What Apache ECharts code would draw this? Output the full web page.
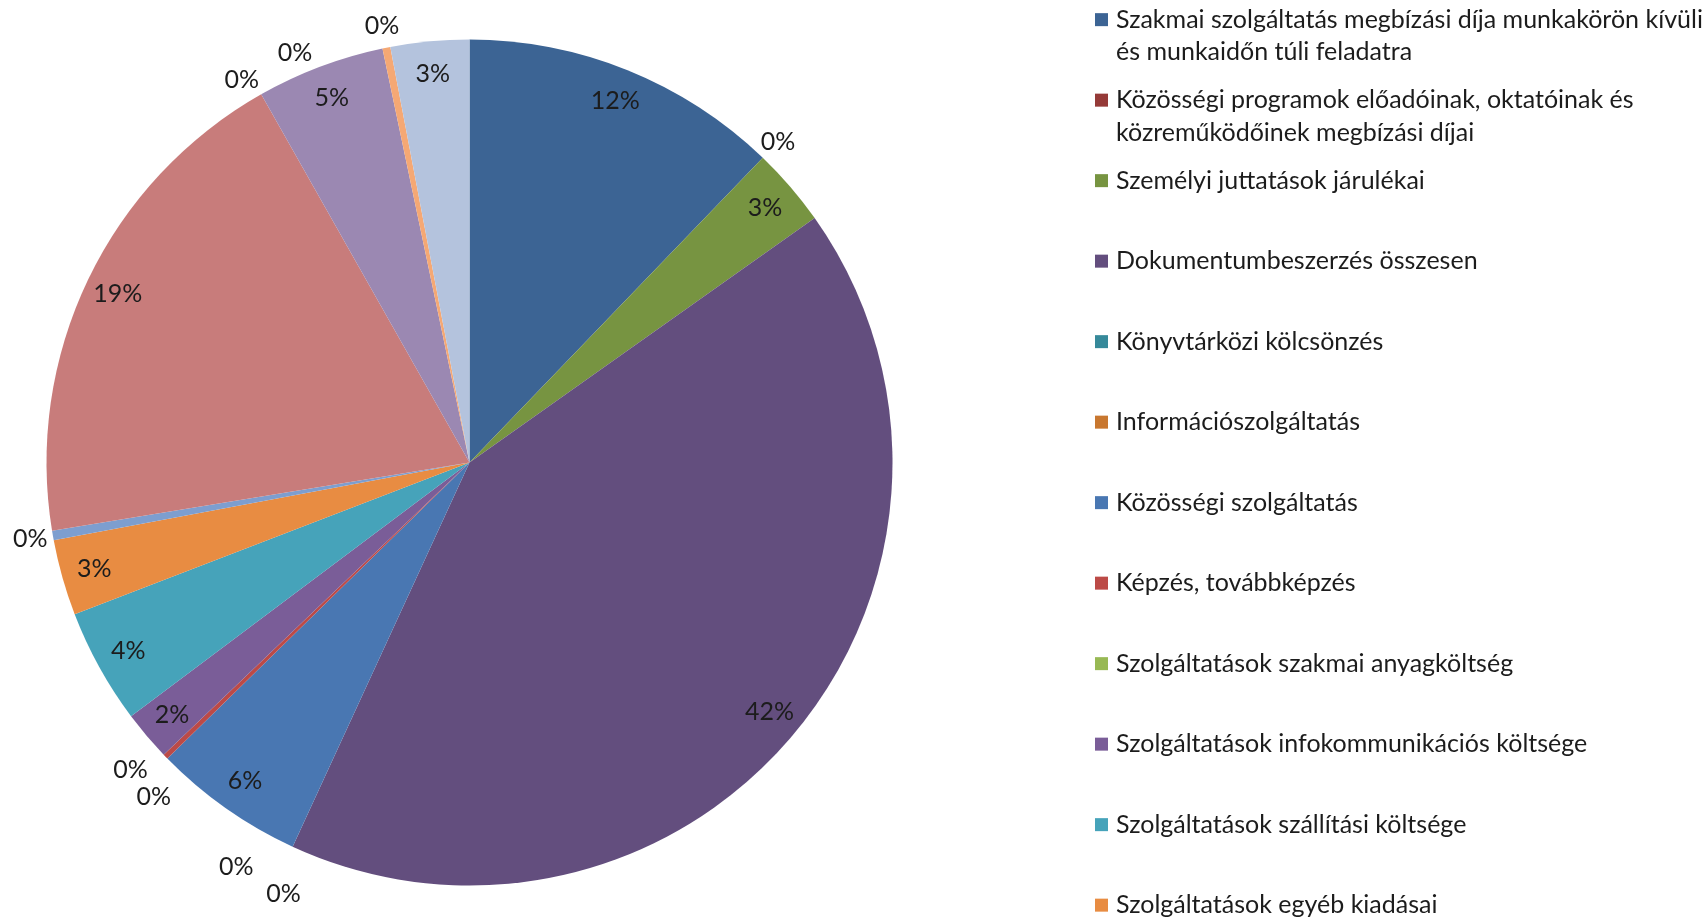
<!DOCTYPE html>
<html>
<head>
<meta charset="utf-8">
<script src="https://cdn.jsdelivr.net/npm/echarts@6/dist/echarts.min.js"></script>
<style>
html,body{margin:0;padding:0;background:#ffffff;}
#chart{width:1708px;height:921px;}
</style>
</head>
<body>
<div id="chart"></div>
<script>
// ---- data ----
const categories = [
  'Szakmai szolgáltatás megbízási díja munkakörön kívüli és munkaidőn túli feladatra',
  'Közösségi programok előadóinak, oktatóinak és közreműködőinek megbízási díjai',
  'Személyi juttatások járulékai',
  'Dokumentumbeszerzés összesen',
  'Könyvtárközi kölcsönzés',
  'Információszolgáltatás',
  'Közösségi szolgáltatás',
  'Képzés, továbbképzés',
  'Szolgáltatások szakmai anyagköltség',
  'Szolgáltatások infokommunikációs költsége',
  'Szolgáltatások szállítási költsége',
  'Szolgáltatások egyéb kiadásai',
  'Tétel 13',
  'Tétel 14',
  'Tétel 15',
  'Tétel 16',
  'Tétel 17',
  'Tétel 18',
  'Tétel 19'
];
const values = [12.2, 0, 3.0, 41.7, 0, 0, 5.8, 0.2, 0, 1.9, 4.4, 2.9, 0.36, 19.4, 0, 4.9, 0, 0.3, 3.0];
const colors = [
  '#3c6494', '#953a38', '#779441', '#634e7e', '#36899a', '#c8772f',
  '#4977b2', '#bc4a47', '#98b954', '#7a5d98', '#46a3ba', '#e88c42',
  '#7d9ecf', '#c87c7b', '#b3ce87', '#9b88b2', '#7fc6d8', '#f5a874',
  '#b4c3dd'
];
const legendCount = 12;

// ---- style / layout ----
const FONT = 'Lato, "Open Sans", sans-serif';
const FS = 25;
const TEXT_COLOR = '#1c1c1c';
const CENTER = [469.5, 462.5];
const R = 423;
const LEGEND_LEFT = 1090;
const LEGEND_FIRST = 23.4;
const LEGEND_STEP = 80.5;
const LINE_H = 32.5;
const LEGEND_MAXW = 596;

const total = values.reduce((a, b) => a + b, 0);
const pctRound = v => Math.round(v / total * 100);

const ctx = document.createElement('canvas').getContext('2d');
ctx.font = FS + 'px ' + FONT;
function wrap(text) {
  const words = text.split(' ');
  const lines = [];
  let cur = '';
  for (const w of words) {
    const t = cur ? cur + ' ' + w : w;
    if (cur && ctx.measureText(t).width > LEGEND_MAXW) { lines.push(cur); cur = w; }
    else cur = t;
  }
  lines.push(cur);
  return lines;
}

const rich = {
  t: { fontSize: FS, fontFamily: FONT, color: TEXT_COLOR, lineHeight: LINE_H, padding: [0, 0, 0, 8], verticalAlign: 'middle' },
  ind: { width: 13, height: 13, verticalAlign: 'middle' }
};
colors.forEach((c, i) => { rich['sq' + i] = { width: 13, height: 13, backgroundColor: c, verticalAlign: 'middle' }; });

function legendFormatter(name) {
  const i = categories.indexOf(name);
  return wrap(name).map((l, k) => (k === 0 ? '{sq' + i + '|}' : '{ind|}') + '{t|' + l + '}').join('\n');
}

const legends = categories.slice(0, legendCount).map((name, i) => ({
  data: [name],
  orient: 'vertical',
  left: LEGEND_LEFT,
  top: LEGEND_FIRST + i * LEGEND_STEP - LINE_H / 2,
  padding: 0,
  itemWidth: 0,
  itemHeight: 0,
  itemGap: 0,
  formatter: legendFormatter,
  textStyle: { rich: rich }
}));

const labelBase = { fontFamily: FONT, fontSize: FS, color: TEXT_COLOR };
const fmt = p => pctRound(p.value) + '%';

const mainData = categories.map((name, i) => ({
  name: name,
  value: values[i],
  itemStyle: { color: colors[i] },
  label: { show: pctRound(values[i]) === 0 }
}));

const ringData = categories.map((name, i) => ({
  name: name,
  value: values[i],
  label: { show: pctRound(values[i]) > 0 }
}));

const chart = echarts.init(document.getElementById('chart'), null, { renderer: 'canvas' });
chart.setOption({
  animation: false,
  backgroundColor: '#ffffff',
  legend: legends,
  series: [
    {
      type: 'pie',
      center: CENTER,
      radius: R,
      startAngle: 90,
      clockwise: true,
      avoidLabelOverlap: true,
      itemStyle: { borderWidth: 0 },
      label: Object.assign({ position: 'outside', formatter: fmt, distanceToLabelLine: 0, overflow: 'none' }, labelBase),
      labelLine: { show: false, length: 22, length2: 0 },
      labelLayout: function (p) {
        if (p.seriesIndex !== 0 || !p.labelRect) return {};
        const w = p.labelRect.width;
        return { dx: p.align === 'right' ? w / 2 : (p.align === 'left' ? -w / 2 : 0) };
      },
      emphasis: { disabled: true },
      data: mainData
    },
    {
      type: 'pie',
      center: CENTER,
      radius: [351, R],
      startAngle: 90,
      clockwise: true,
      silent: true,
      avoidLabelOverlap: false,
      itemStyle: { color: 'rgba(0,0,0,0)', borderWidth: 0 },
      label: Object.assign({ position: 'inside', formatter: fmt }, labelBase),
      labelLine: { show: false },
      emphasis: { disabled: true },
      data: ringData
    }
  ]
});
</script>
</body>
</html>
